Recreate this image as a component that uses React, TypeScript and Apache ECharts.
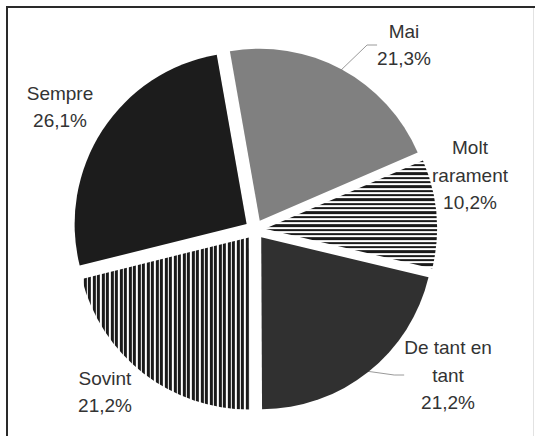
import React, { useEffect, useRef } from 'react';
import * as echarts from 'echarts';

const categories = ['Mai', 'Molt rarament', 'De tant en tant', 'Sovint', 'Sempre'];
const labelNames = ['Mai', 'Molt\nrarament', 'De tant en\ntant', 'Sovint', 'Sempre'];
const values = [21.3, 10.2, 21.2, 21.2, 26.1];

const labelPos: number[][] = [[404, 45], [470, 175], [448, 375], [105, 392], [60, 107]];
const showLine = [true, false, true, false, false];

export default function App() {
  const ref = useRef<HTMLDivElement>(null);
  useEffect(() => {
    const chart = echarts.init(ref.current!, null, { renderer: 'svg' });
    const hStripe = {
      symbol: 'rect', symbolSize: 1, color: '#1a1a1a', backgroundColor: '#ffffff',
      dashArrayX: [10, 0], dashArrayY: [2, 2, 3, 2, 2, 2],
    };
    const vStripe = {
      symbol: 'rect', symbolSize: 1, color: '#1a1a1a', backgroundColor: '#ffffff',
      dashArrayX: [3, 1, 3, 2], dashArrayY: [10, 0],
    };
    const styles: any[] = [
      { color: '#808080' },
      { color: '#ffffff', decal: hStripe },
      { color: '#303030' },
      { color: '#ffffff', decal: vStripe },
      { color: '#1c1c1c' },
    ];
    const center = [255, 229.5];
    chart.setOption({
      animation: false,
      backgroundColor: '#ffffff',
      graphic: [
        { type: 'line', shape: { x1: 6, y1: 7, x2: 535, y2: 7 }, style: { stroke: '#2a2a2a', lineWidth: 2 } },
        { type: 'line', shape: { x1: 7, y1: 6, x2: 7, y2: 436 }, style: { stroke: '#2a2a2a', lineWidth: 2 } },
        { type: 'line', shape: { x1: 533.5, y1: 8, x2: 533.5, y2: 436 }, style: { stroke: '#e2e2e2', lineWidth: 1 } },
      ],
      series: [
        {
          type: 'pie',
          center,
          radius: [0, 172],
          startAngle: 100,
          clockwise: true,
          selectedMode: 'multiple',
          selectedOffset: 10,
          emphasis: { disabled: true },
          select: { itemStyle: { borderWidth: 0 } },
          label: { show: false },
          labelLine: { show: false },
          data: categories.map((c, i) => ({
            name: c,
            value: values[i],
            selected: true,
            itemStyle: styles[i],
          })),
        },
        {
          type: 'pie',
          center,
          radius: [0, 181],
          startAngle: 100,
          clockwise: true,
          silent: true,
          selectedMode: false,
          emphasis: { disabled: true },
          itemStyle: { color: 'rgba(0,0,0,0)', borderWidth: 0 },
          data: categories.map((c, i) => ({
            name: c,
            value: values[i],
            labelLine: { show: showLine[i] },
          })),
          label: {
            show: true,
            formatter: (p: any) =>
              labelNames[p.dataIndex] + '\n' + values[p.dataIndex].toFixed(1).replace('.', ',') + '%',
            fontSize: 19,
            lineHeight: 27.5,
            color: '#333333',
            fontFamily: 'Liberation Sans, Arial, sans-serif',
            align: 'center',
            overflow: 'none',
          },
          labelLine: {
            show: true,
            length: 10,
            length2: 10,
            lineStyle: { color: '#9a9a9a', width: 1 },
          },
          labelLayout: (params: any) => {
            const p = labelPos[params.dataIndex];
            return { x: p[0], y: p[1], align: 'center', verticalAlign: 'middle' };
          },
        },
      ],
    });
    return () => chart.dispose();
  }, []);
  return (
    <div
      ref={ref}
      style={{ position: 'absolute', left: 0, top: 0, width: 535, height: 436 }}
    />
  );
}
